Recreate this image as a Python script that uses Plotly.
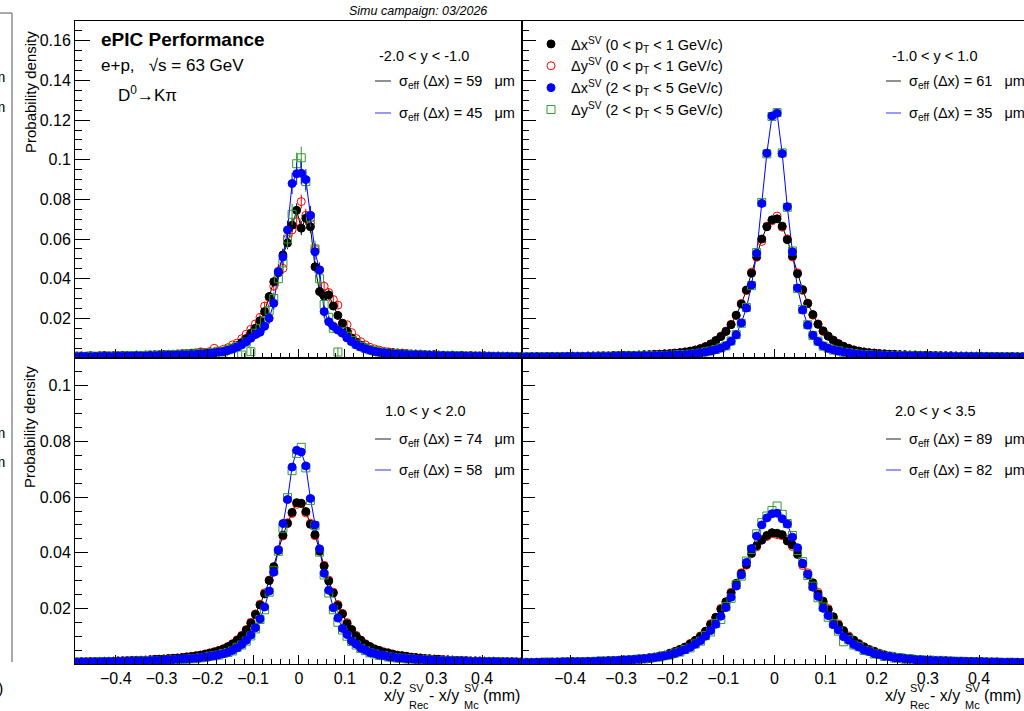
import plotly.graph_objects as go

W, H = 1024, 711
FONT = "Liberation Sans, Arial, Helvetica, sans-serif"


def px(x):
    return x / W


def py(y):
    return 1 - y / H


# ---------------- data ----------------
BIN_CENTERS = [round(-0.495 + 0.01 * i, 3) for i in range(100)]

SERIES_NAMES = [
    "Δx<sup>SV</sup> (0 &lt; p<sub>T</sub> &lt; 1 GeV/c)",
    "Δy<sup>SV</sup> (0 &lt; p<sub>T</sub> &lt; 1 GeV/c)",
    "Δx<sup>SV</sup> (2 &lt; p<sub>T</sub> &lt; 5 GeV/c)",
    "Δy<sup>SV</sup> (2 &lt; p<sub>T</sub> &lt; 5 GeV/c)",
]
RAPIDITY_LABELS = ["-2.0 &lt; y &lt; -1.0", "-1.0 &lt; y &lt; 1.0", "1.0 &lt; y &lt; 2.0", "2.0 &lt; y &lt; 3.5"]
SIGMA_LOW = [59, 61, 74, 89]
SIGMA_HIGH = [45, 35, 58, 82]
X_TICKS = [-0.4, -0.3, -0.2, -0.1, 0, 0.1, 0.2, 0.3, 0.4]
Y_TICKS_TOP = [0.02, 0.04, 0.06, 0.08, 0.1, 0.12, 0.14, 0.16]
Y_TICKS_BOT = [0.02, 0.04, 0.06, 0.08, 0.1]

# ---- panel 1 : -2.0 < y < -1.0 ----
TL_DX_LOW = [
    0.0008, 0.0010, 0.0007, 0.0009, 0.0011, 0.0008, 0.0010, 0.0012, 0.0009, 0.0011,
    0.0010, 0.0013, 0.0011, 0.0012, 0.0014, 0.0012, 0.0015, 0.0013, 0.0016, 0.0014,
    0.0017, 0.0015, 0.0019, 0.0018, 0.0021, 0.0020, 0.0024, 0.0023, 0.0026, 0.0024,
    0.0025, 0.0027, 0.0030, 0.0033, 0.0040, 0.0049, 0.0062, 0.0078, 0.0098, 0.0125,
    0.0150, 0.0188, 0.0234, 0.0310, 0.0385, 0.0430, 0.0520, 0.0580, 0.0670, 0.0745,
    0.0655, 0.0705, 0.0662, 0.0460, 0.0335, 0.0312, 0.0318, 0.0262, 0.0215, 0.0175,
    0.0135, 0.0101, 0.0080, 0.0064, 0.0052, 0.0042, 0.0035, 0.0031, 0.0028, 0.0027,
    0.0026, 0.0024, 0.0022, 0.0021, 0.0019, 0.0020, 0.0017, 0.0016, 0.0015, 0.0016,
    0.0014, 0.0013, 0.0014, 0.0012, 0.0011, 0.0013, 0.0010, 0.0011, 0.0010, 0.0009,
    0.0011, 0.0009, 0.0008, 0.0010, 0.0008, 0.0009, 0.0007, 0.0008, 0.0007, 0.0008,
]
TL_DY_LOW = [
    0.0009, 0.0007, 0.0011, 0.0008, 0.0010, 0.0009, 0.0012, 0.0008, 0.0011, 0.0010,
    0.0012, 0.0010, 0.0013, 0.0011, 0.0014, 0.0013, 0.0012, 0.0016, 0.0014, 0.0017,
    0.0016, 0.0019, 0.0017, 0.0021, 0.0020, 0.0023, 0.0022, 0.0026, 0.0031, 0.0028,
    0.0032, 0.0049, 0.0035, 0.0044, 0.0052, 0.0066, 0.0075, 0.0097, 0.0120, 0.0145,
    0.0172, 0.0205, 0.0262, 0.0305, 0.0362, 0.0438, 0.0452, 0.0600, 0.0646, 0.0688,
    0.0789, 0.0720, 0.0680, 0.0548, 0.0445, 0.0362, 0.0330, 0.0295, 0.0267, 0.0175,
    0.0168, 0.0128, 0.0098, 0.0082, 0.0066, 0.0054, 0.0046, 0.0040, 0.0034, 0.0031,
    0.0028, 0.0026, 0.0025, 0.0022, 0.0021, 0.0019, 0.0020, 0.0017, 0.0016, 0.0017,
    0.0015, 0.0014, 0.0013, 0.0015, 0.0012, 0.0012, 0.0011, 0.0012, 0.0010, 0.0011,
    0.0009, 0.0010, 0.0009, 0.0008, 0.0010, 0.0008, 0.0009, 0.0007, 0.0008, 0.0007,
]
TL_DX_HIGH = [
    0.0007, 0.0006, 0.0008, 0.0007, 0.0006, 0.0008, 0.0007, 0.0009, 0.0008, 0.0007,
    0.0009, 0.0008, 0.0010, 0.0009, 0.0011, 0.0010, 0.0009, 0.0012, 0.0011, 0.0013,
    0.0012, 0.0014, 0.0013, 0.0015, 0.0016, 0.0015, 0.0018, 0.0017, 0.0020, 0.0022,
    0.0024, 0.0026, 0.0030, 0.0033, 0.0038, 0.0045, 0.0055, 0.0066, 0.0082, 0.0100,
    0.0118, 0.0130, 0.0160, 0.0200, 0.0276, 0.0435, 0.0510, 0.0646, 0.0880, 0.0930,
    0.0932, 0.0900, 0.0720, 0.0536, 0.0444, 0.0234, 0.0183, 0.0160, 0.0141, 0.0125,
    0.0101, 0.0082, 0.0066, 0.0055, 0.0046, 0.0039, 0.0033, 0.0029, 0.0026, 0.0023,
    0.0021, 0.0019, 0.0018, 0.0017, 0.0015, 0.0016, 0.0014, 0.0013, 0.0014, 0.0012,
    0.0011, 0.0012, 0.0010, 0.0011, 0.0009, 0.0010, 0.0009, 0.0008, 0.0009, 0.0008,
    0.0007, 0.0008, 0.0007, 0.0007, 0.0006, 0.0007, 0.0006, 0.0006, 0.0005, 0.0006,
]
TL_DY_HIGH = [
    0.0006, 0.0009, 0.0007, 0.0008, 0.0010, 0.0007, 0.0009, 0.0008, 0.0010, 0.0008,
    0.0010, 0.0009, 0.0011, 0.0012, 0.0010, 0.0013, 0.0011, 0.0014, 0.0012, 0.0015,
    0.0014, 0.0016, 0.0018, 0.0015, 0.0019, 0.0021, 0.0018, 0.0024, 0.0022, 0.0020,
    0.0028, 0.0024, 0.0034, 0.0030, 0.0042, 0.0050, 0.0058, 0.0015, 0.0080, 0.0032,
    0.0125, 0.0148, 0.0185, 0.0240, 0.0300, 0.0400, 0.0480, 0.0600, 0.0725, 0.0980,
    0.1010, 0.0890, 0.0710, 0.0550, 0.0400, 0.0270, 0.0205, 0.0150, 0.0030, 0.0132,
    0.0110, 0.0088, 0.0070, 0.0058, 0.0049, 0.0041, 0.0036, 0.0030, 0.0027, 0.0024,
    0.0022, 0.0021, 0.0018, 0.0019, 0.0016, 0.0017, 0.0014, 0.0015, 0.0013, 0.0012,
    0.0013, 0.0011, 0.0012, 0.0010, 0.0011, 0.0009, 0.0010, 0.0008, 0.0009, 0.0009,
    0.0007, 0.0008, 0.0008, 0.0006, 0.0007, 0.0007, 0.0006, 0.0007, 0.0005, 0.0006,
]
TL_ERR_LOW = [
    0.0004, 0.0004, 0.0004, 0.0004, 0.0004, 0.0004, 0.0004, 0.0004, 0.0004, 0.0004,
    0.0005, 0.0005, 0.0005, 0.0005, 0.0005, 0.0005, 0.0005, 0.0005, 0.0005, 0.0005,
    0.0005, 0.0005, 0.0005, 0.0006, 0.0006, 0.0006, 0.0006, 0.0006, 0.0007, 0.0007,
    0.0007, 0.0007, 0.0008, 0.0008, 0.0009, 0.0010, 0.0011, 0.0012, 0.0013, 0.0015,
    0.0017, 0.0018, 0.0020, 0.0023, 0.0025, 0.0027, 0.0029, 0.0031, 0.0033, 0.0035,
    0.0035, 0.0033, 0.0031, 0.0029, 0.0027, 0.0025, 0.0023, 0.0020, 0.0018, 0.0017,
    0.0015, 0.0013, 0.0012, 0.0011, 0.0010, 0.0009, 0.0008, 0.0008, 0.0007, 0.0007,
    0.0007, 0.0007, 0.0006, 0.0006, 0.0006, 0.0006, 0.0006, 0.0005, 0.0005, 0.0005,
    0.0005, 0.0005, 0.0005, 0.0005, 0.0005, 0.0005, 0.0005, 0.0005, 0.0005, 0.0005,
    0.0004, 0.0004, 0.0004, 0.0004, 0.0004, 0.0004, 0.0004, 0.0004, 0.0004, 0.0004,
]
TL_ERR_HIGH = [
    0.0005, 0.0005, 0.0005, 0.0005, 0.0005, 0.0005, 0.0005, 0.0005, 0.0005, 0.0005,
    0.0006, 0.0006, 0.0006, 0.0006, 0.0006, 0.0006, 0.0006, 0.0006, 0.0006, 0.0006,
    0.0006, 0.0007, 0.0007, 0.0007, 0.0007, 0.0008, 0.0008, 0.0008, 0.0009, 0.0009,
    0.0009, 0.0010, 0.0011, 0.0011, 0.0012, 0.0013, 0.0015, 0.0016, 0.0018, 0.0019,
    0.0021, 0.0022, 0.0025, 0.0028, 0.0032, 0.0038, 0.0042, 0.0047, 0.0053, 0.0056,
    0.0056, 0.0053, 0.0047, 0.0042, 0.0038, 0.0032, 0.0028, 0.0025, 0.0022, 0.0021,
    0.0019, 0.0018, 0.0016, 0.0015, 0.0013, 0.0012, 0.0011, 0.0011, 0.0010, 0.0009,
    0.0009, 0.0009, 0.0008, 0.0008, 0.0008, 0.0007, 0.0007, 0.0007, 0.0007, 0.0006,
    0.0006, 0.0006, 0.0006, 0.0006, 0.0006, 0.0006, 0.0006, 0.0006, 0.0006, 0.0006,
    0.0005, 0.0005, 0.0005, 0.0005, 0.0005, 0.0005, 0.0005, 0.0005, 0.0005, 0.0005,
]

# ---- panel 2 : -1.0 < y < 1.0 ----
TR_DX_LOW = [
    0.0006, 0.0006, 0.0007, 0.0006, 0.0007, 0.0007, 0.0008, 0.0008, 0.0007, 0.0008,
    0.0009, 0.0009, 0.0008, 0.0010, 0.0010, 0.0010, 0.0011, 0.0010, 0.0012, 0.0012,
    0.0013, 0.0014, 0.0013, 0.0015, 0.0016, 0.0017, 0.0018, 0.0019, 0.0021, 0.0022,
    0.0024, 0.0027, 0.0030, 0.0034, 0.0040, 0.0047, 0.0057, 0.0070, 0.0088, 0.0108,
    0.0134, 0.0168, 0.0216, 0.0272, 0.0343, 0.0428, 0.0512, 0.0600, 0.0662, 0.0697,
    0.0702, 0.0665, 0.0597, 0.0514, 0.0425, 0.0345, 0.0275, 0.0219, 0.0170, 0.0137,
    0.0110, 0.0090, 0.0072, 0.0059, 0.0048, 0.0040, 0.0035, 0.0030, 0.0027, 0.0025,
    0.0022, 0.0021, 0.0019, 0.0018, 0.0017, 0.0016, 0.0015, 0.0015, 0.0014, 0.0013,
    0.0012, 0.0012, 0.0011, 0.0011, 0.0011, 0.0010, 0.0010, 0.0009, 0.0009, 0.0009,
    0.0008, 0.0008, 0.0008, 0.0007, 0.0007, 0.0007, 0.0007, 0.0006, 0.0006, 0.0006,
]
TR_DY_LOW = [
    0.0007, 0.0006, 0.0006, 0.0007, 0.0007, 0.0008, 0.0007, 0.0008, 0.0008, 0.0008,
    0.0009, 0.0008, 0.0009, 0.0009, 0.0010, 0.0011, 0.0010, 0.0011, 0.0012, 0.0013,
    0.0013, 0.0013, 0.0014, 0.0015, 0.0016, 0.0016, 0.0018, 0.0019, 0.0020, 0.0023,
    0.0025, 0.0027, 0.0031, 0.0035, 0.0040, 0.0048, 0.0058, 0.0071, 0.0087, 0.0110,
    0.0136, 0.0170, 0.0214, 0.0275, 0.0340, 0.0433, 0.0508, 0.0588, 0.0665, 0.0692,
    0.0716, 0.0660, 0.0601, 0.0510, 0.0430, 0.0341, 0.0277, 0.0216, 0.0172, 0.0134,
    0.0111, 0.0089, 0.0073, 0.0058, 0.0049, 0.0041, 0.0034, 0.0031, 0.0026, 0.0024,
    0.0023, 0.0020, 0.0019, 0.0018, 0.0016, 0.0016, 0.0015, 0.0014, 0.0013, 0.0013,
    0.0012, 0.0011, 0.0012, 0.0010, 0.0010, 0.0010, 0.0009, 0.0010, 0.0009, 0.0008,
    0.0008, 0.0008, 0.0007, 0.0008, 0.0007, 0.0006, 0.0007, 0.0006, 0.0006, 0.0005,
]
TR_DX_HIGH = [
    0.0005, 0.0005, 0.0005, 0.0006, 0.0005, 0.0006, 0.0006, 0.0006, 0.0006, 0.0007,
    0.0007, 0.0007, 0.0007, 0.0008, 0.0007, 0.0008, 0.0008, 0.0008, 0.0009, 0.0009,
    0.0009, 0.0009, 0.0010, 0.0010, 0.0011, 0.0011, 0.0012, 0.0012, 0.0013, 0.0014,
    0.0015, 0.0016, 0.0017, 0.0019, 0.0022, 0.0026, 0.0030, 0.0036, 0.0042, 0.0050,
    0.0062, 0.0084, 0.0117, 0.0177, 0.0252, 0.0368, 0.0528, 0.0780, 0.1033, 0.1221,
    0.1235, 0.1031, 0.0763, 0.0536, 0.0353, 0.0242, 0.0166, 0.0115, 0.0083, 0.0061,
    0.0049, 0.0041, 0.0035, 0.0030, 0.0026, 0.0022, 0.0019, 0.0017, 0.0016, 0.0015,
    0.0014, 0.0013, 0.0012, 0.0012, 0.0011, 0.0011, 0.0010, 0.0010, 0.0009, 0.0009,
    0.0009, 0.0008, 0.0008, 0.0008, 0.0008, 0.0007, 0.0007, 0.0007, 0.0007, 0.0006,
    0.0006, 0.0006, 0.0006, 0.0006, 0.0005, 0.0005, 0.0005, 0.0005, 0.0005, 0.0005,
]
TR_DY_HIGH = [
    0.0005, 0.0006, 0.0005, 0.0005, 0.0006, 0.0006, 0.0005, 0.0007, 0.0006, 0.0006,
    0.0007, 0.0008, 0.0007, 0.0007, 0.0008, 0.0008, 0.0009, 0.0008, 0.0009, 0.0010,
    0.0009, 0.0010, 0.0010, 0.0011, 0.0011, 0.0012, 0.0012, 0.0013, 0.0013, 0.0014,
    0.0016, 0.0016, 0.0018, 0.0019, 0.0021, 0.0025, 0.0031, 0.0035, 0.0043, 0.0051,
    0.0061, 0.0086, 0.0118, 0.0175, 0.0255, 0.0365, 0.0532, 0.0785, 0.1030, 0.1218,
    0.1238, 0.1035, 0.0760, 0.0540, 0.0350, 0.0245, 0.0168, 0.0113, 0.0085, 0.0060,
    0.0050, 0.0040, 0.0036, 0.0029, 0.0026, 0.0023, 0.0019, 0.0018, 0.0016, 0.0014,
    0.0014, 0.0013, 0.0013, 0.0011, 0.0011, 0.0010, 0.0011, 0.0009, 0.0010, 0.0009,
    0.0008, 0.0009, 0.0008, 0.0007, 0.0008, 0.0007, 0.0007, 0.0006, 0.0007, 0.0006,
    0.0006, 0.0005, 0.0006, 0.0006, 0.0005, 0.0005, 0.0005, 0.0004, 0.0005, 0.0005,
]

# ---- panel 3 : 1.0 < y < 2.0 ----
BL_DX_LOW = [
    0.0007, 0.0007, 0.0008, 0.0008, 0.0008, 0.0009, 0.0009, 0.0009, 0.0010, 0.0010,
    0.0011, 0.0011, 0.0012, 0.0012, 0.0013, 0.0013, 0.0014, 0.0015, 0.0016, 0.0017,
    0.0018, 0.0019, 0.0020, 0.0021, 0.0023, 0.0025, 0.0027, 0.0029, 0.0032, 0.0035,
    0.0039, 0.0043, 0.0048, 0.0054, 0.0062, 0.0072, 0.0085, 0.0101, 0.0122, 0.0147,
    0.0178, 0.0212, 0.0252, 0.0300, 0.0350, 0.0408, 0.0463, 0.0505, 0.0545, 0.0580,
    0.0578, 0.0548, 0.0502, 0.0465, 0.0405, 0.0352, 0.0298, 0.0255, 0.0210, 0.0180,
    0.0145, 0.0124, 0.0100, 0.0086, 0.0071, 0.0063, 0.0053, 0.0049, 0.0042, 0.0040,
    0.0035, 0.0031, 0.0030, 0.0027, 0.0024, 0.0023, 0.0021, 0.0019, 0.0019, 0.0017,
    0.0017, 0.0015, 0.0015, 0.0014, 0.0013, 0.0012, 0.0012, 0.0011, 0.0011, 0.0010,
    0.0010, 0.0009, 0.0010, 0.0009, 0.0008, 0.0008, 0.0008, 0.0007, 0.0007, 0.0007,
]
BL_DY_LOW = [
    0.0008, 0.0007, 0.0007, 0.0008, 0.0009, 0.0008, 0.0009, 0.0010, 0.0009, 0.0010,
    0.0011, 0.0012, 0.0011, 0.0013, 0.0012, 0.0014, 0.0014, 0.0015, 0.0017, 0.0017,
    0.0018, 0.0020, 0.0021, 0.0022, 0.0023, 0.0026, 0.0027, 0.0030, 0.0032, 0.0036,
    0.0040, 0.0044, 0.0049, 0.0055, 0.0063, 0.0073, 0.0087, 0.0103, 0.0124, 0.0150,
    0.0180, 0.0215, 0.0256, 0.0302, 0.0347, 0.0411, 0.0460, 0.0508, 0.0541, 0.0574,
    0.0576, 0.0543, 0.0506, 0.0461, 0.0410, 0.0355, 0.0302, 0.0258, 0.0214, 0.0182,
    0.0149, 0.0122, 0.0103, 0.0084, 0.0073, 0.0062, 0.0055, 0.0048, 0.0044, 0.0039,
    0.0036, 0.0032, 0.0029, 0.0028, 0.0025, 0.0023, 0.0022, 0.0020, 0.0018, 0.0018,
    0.0016, 0.0016, 0.0014, 0.0014, 0.0013, 0.0013, 0.0012, 0.0011, 0.0011, 0.0011,
    0.0010, 0.0010, 0.0009, 0.0009, 0.0009, 0.0008, 0.0008, 0.0008, 0.0007, 0.0008,
]
BL_DX_HIGH = [
    0.0006, 0.0006, 0.0007, 0.0006, 0.0007, 0.0007, 0.0007, 0.0008, 0.0008, 0.0009,
    0.0009, 0.0009, 0.0010, 0.0010, 0.0010, 0.0011, 0.0011, 0.0012, 0.0013, 0.0013,
    0.0014, 0.0015, 0.0016, 0.0017, 0.0018, 0.0019, 0.0020, 0.0021, 0.0023, 0.0025,
    0.0027, 0.0030, 0.0033, 0.0037, 0.0042, 0.0049, 0.0058, 0.0070, 0.0085, 0.0104,
    0.0130, 0.0162, 0.0205, 0.0262, 0.0330, 0.0410, 0.0505, 0.0591, 0.0708, 0.0768,
    0.0762, 0.0712, 0.0595, 0.0500, 0.0414, 0.0326, 0.0265, 0.0202, 0.0165, 0.0128,
    0.0106, 0.0083, 0.0071, 0.0057, 0.0050, 0.0041, 0.0038, 0.0032, 0.0031, 0.0026,
    0.0025, 0.0022, 0.0022, 0.0019, 0.0019, 0.0017, 0.0017, 0.0015, 0.0015, 0.0013,
    0.0013, 0.0012, 0.0012, 0.0011, 0.0010, 0.0011, 0.0010, 0.0009, 0.0009, 0.0009,
    0.0008, 0.0008, 0.0008, 0.0007, 0.0007, 0.0007, 0.0007, 0.0006, 0.0006, 0.0006,
]
BL_DY_HIGH = [
    0.0006, 0.0007, 0.0006, 0.0007, 0.0006, 0.0007, 0.0008, 0.0007, 0.0008, 0.0009,
    0.0008, 0.0009, 0.0010, 0.0009, 0.0010, 0.0011, 0.0011, 0.0012, 0.0012, 0.0012,
    0.0014, 0.0013, 0.0015, 0.0015, 0.0017, 0.0017, 0.0019, 0.0019, 0.0022, 0.0024,
    0.0028, 0.0029, 0.0032, 0.0038, 0.0041, 0.0047, 0.0060, 0.0068, 0.0082, 0.0101,
    0.0126, 0.0160, 0.0195, 0.0258, 0.0335, 0.0405, 0.0488, 0.0598, 0.0695, 0.0757,
    0.0779, 0.0705, 0.0588, 0.0497, 0.0402, 0.0320, 0.0255, 0.0195, 0.0150, 0.0122,
    0.0100, 0.0081, 0.0068, 0.0056, 0.0048, 0.0040, 0.0036, 0.0031, 0.0030, 0.0025,
    0.0024, 0.0021, 0.0021, 0.0018, 0.0018, 0.0016, 0.0016, 0.0014, 0.0015, 0.0013,
    0.0012, 0.0012, 0.0011, 0.0011, 0.0010, 0.0010, 0.0010, 0.0009, 0.0009, 0.0008,
    0.0008, 0.0008, 0.0007, 0.0008, 0.0007, 0.0006, 0.0007, 0.0006, 0.0006, 0.0006,
]

# ---- panel 4 : 2.0 < y < 3.5 ----
BR_DX_LOW = [
    0.0005, 0.0005, 0.0006, 0.0006, 0.0006, 0.0006, 0.0007, 0.0007, 0.0007, 0.0008,
    0.0008, 0.0008, 0.0009, 0.0009, 0.0010, 0.0010, 0.0011, 0.0012, 0.0012, 0.0013,
    0.0014, 0.0015, 0.0017, 0.0018, 0.0020, 0.0022, 0.0025, 0.0028, 0.0032, 0.0038,
    0.0045, 0.0052, 0.0061, 0.0072, 0.0085, 0.0099, 0.0118, 0.0142, 0.0168, 0.0197,
    0.0224, 0.0255, 0.0290, 0.0325, 0.0358, 0.0397, 0.0425, 0.0445, 0.0462, 0.0472,
    0.0470, 0.0465, 0.0442, 0.0428, 0.0394, 0.0360, 0.0322, 0.0292, 0.0252, 0.0226,
    0.0195, 0.0170, 0.0140, 0.0120, 0.0097, 0.0086, 0.0071, 0.0062, 0.0051, 0.0046,
    0.0037, 0.0033, 0.0027, 0.0026, 0.0021, 0.0021, 0.0017, 0.0017, 0.0014, 0.0014,
    0.0013, 0.0012, 0.0011, 0.0012, 0.0010, 0.0010, 0.0009, 0.0009, 0.0008, 0.0008,
    0.0008, 0.0007, 0.0007, 0.0007, 0.0006, 0.0006, 0.0006, 0.0005, 0.0006, 0.0005,
]
BR_DY_LOW = [
    0.0005, 0.0006, 0.0005, 0.0006, 0.0007, 0.0006, 0.0007, 0.0006, 0.0008, 0.0007,
    0.0008, 0.0009, 0.0008, 0.0010, 0.0009, 0.0011, 0.0010, 0.0012, 0.0013, 0.0012,
    0.0015, 0.0014, 0.0017, 0.0019, 0.0019, 0.0023, 0.0024, 0.0029, 0.0031, 0.0039,
    0.0044, 0.0053, 0.0060, 0.0074, 0.0084, 0.0101, 0.0116, 0.0145, 0.0166, 0.0200,
    0.0222, 0.0258, 0.0287, 0.0328, 0.0355, 0.0400, 0.0421, 0.0448, 0.0458, 0.0468,
    0.0465, 0.0461, 0.0447, 0.0422, 0.0399, 0.0354, 0.0328, 0.0287, 0.0258, 0.0220,
    0.0199, 0.0165, 0.0144, 0.0116, 0.0101, 0.0083, 0.0074, 0.0059, 0.0053, 0.0044,
    0.0039, 0.0031, 0.0029, 0.0024, 0.0023, 0.0019, 0.0019, 0.0016, 0.0015, 0.0013,
    0.0014, 0.0011, 0.0012, 0.0010, 0.0011, 0.0009, 0.0010, 0.0008, 0.0009, 0.0008,
    0.0007, 0.0008, 0.0007, 0.0006, 0.0007, 0.0006, 0.0005, 0.0006, 0.0005, 0.0005,
]
BR_DX_HIGH = [
    0.0005, 0.0005, 0.0005, 0.0006, 0.0006, 0.0006, 0.0006, 0.0007, 0.0007, 0.0007,
    0.0008, 0.0008, 0.0008, 0.0009, 0.0009, 0.0010, 0.0010, 0.0011, 0.0012, 0.0013,
    0.0014, 0.0015, 0.0016, 0.0017, 0.0019, 0.0021, 0.0023, 0.0026, 0.0029, 0.0033,
    0.0038, 0.0044, 0.0051, 0.0060, 0.0071, 0.0084, 0.0100, 0.0120, 0.0143, 0.0172,
    0.0203, 0.0240, 0.0280, 0.0320, 0.0365, 0.0415, 0.0460, 0.0500, 0.0525, 0.0540,
    0.0542, 0.0522, 0.0503, 0.0456, 0.0418, 0.0362, 0.0323, 0.0276, 0.0243, 0.0200,
    0.0174, 0.0141, 0.0122, 0.0098, 0.0086, 0.0070, 0.0061, 0.0050, 0.0045, 0.0037,
    0.0034, 0.0028, 0.0027, 0.0022, 0.0022, 0.0018, 0.0018, 0.0015, 0.0015, 0.0013,
    0.0013, 0.0012, 0.0012, 0.0011, 0.0010, 0.0010, 0.0009, 0.0009, 0.0009, 0.0008,
    0.0008, 0.0007, 0.0007, 0.0007, 0.0006, 0.0006, 0.0006, 0.0006, 0.0005, 0.0005,
]
BR_DY_HIGH = [
    0.0005, 0.0006, 0.0005, 0.0005, 0.0006, 0.0007, 0.0006, 0.0006, 0.0007, 0.0008,
    0.0007, 0.0008, 0.0009, 0.0008, 0.0009, 0.0010, 0.0011, 0.0010, 0.0012, 0.0012,
    0.0014, 0.0014, 0.0016, 0.0018, 0.0018, 0.0020, 0.0023, 0.0025, 0.0030, 0.0032,
    0.0039, 0.0043, 0.0052, 0.0058, 0.0072, 0.0082, 0.0102, 0.0115, 0.0145, 0.0160,
    0.0206, 0.0236, 0.0285, 0.0316, 0.0370, 0.0412, 0.0468, 0.0508, 0.0532, 0.0552,
    0.0568, 0.0538, 0.0505, 0.0462, 0.0408, 0.0368, 0.0318, 0.0280, 0.0238, 0.0205,
    0.0168, 0.0145, 0.0118, 0.0080, 0.0087, 0.0068, 0.0062, 0.0049, 0.0046, 0.0036,
    0.0035, 0.0027, 0.0028, 0.0021, 0.0023, 0.0017, 0.0019, 0.0014, 0.0016, 0.0012,
    0.0014, 0.0011, 0.0013, 0.0010, 0.0011, 0.0009, 0.0010, 0.0008, 0.0009, 0.0007,
    0.0008, 0.0007, 0.0006, 0.0007, 0.0005, 0.0006, 0.0006, 0.0005, 0.0005, 0.0005,
]

PANELS = [
    dict(xa="x", ya="y", data=[TL_DX_LOW, TL_DY_LOW, TL_DX_HIGH, TL_DY_HIGH],
         err=[TL_ERR_LOW, TL_ERR_LOW, TL_ERR_HIGH, TL_ERR_HIGH]),
    dict(xa="x2", ya="y2", data=[TR_DX_LOW, TR_DY_LOW, TR_DX_HIGH, TR_DY_HIGH], err=None),
    dict(xa="x3", ya="y3", data=[BL_DX_LOW, BL_DY_LOW, BL_DX_HIGH, BL_DY_HIGH], err=None),
    dict(xa="x4", ya="y4", data=[BR_DX_LOW, BR_DY_LOW, BR_DX_HIGH, BR_DY_HIGH], err=None),
]
for p in PANELS:
    for s in p["data"]:
        assert len(s) == 100, len(s)

# ---------------- styles ----------------
COLORS = ["#000000", "#ff0000", "#0000ff", "#339933"]
SYMBOLS = ["circle", "circle-open", "circle", "square-open"]
SIZES = [8, 8, 8, 8]
DRAW_ORDER = [1, 0, 3, 2]   # red below black, green below blue

fig = go.Figure()

for ip, p in enumerate(PANELS):
    # fit-like lines through the Δx series
    for si, lc in ((0, "#000000"), (2, "#0000ff")):
        fig.add_trace(go.Scatter(
            x=BIN_CENTERS, y=p["data"][si], mode="lines",
            line=dict(color=lc, width=1), xaxis=p["xa"], yaxis=p["ya"],
            showlegend=False, hoverinfo="skip"))
    for si in DRAW_ORDER:
        kw = {}
        if p["err"] is not None:
            kw["error_y"] = dict(type="data", array=p["err"][si], visible=True,
                                 color=COLORS[si], thickness=1, width=0)
        fig.add_trace(go.Scatter(
            x=BIN_CENTERS, y=p["data"][si], mode="markers",
            marker=dict(symbol=SYMBOLS[si], size=SIZES[si], color=COLORS[si],
                        line=dict(color=COLORS[si], width=1)),
            xaxis=p["xa"], yaxis=p["ya"], name=SERIES_NAMES[si],
            legendgroup="g%d" % si, legendrank=si + 1,
            showlegend=(ip == 0), **kw))

# ---------------- axes ----------------
X_LEFT = [75, 522]
X_RIGHT = [522, 1024]
Y_TOP = [21, 358]
Y_BOT = [358, 664]
TL_XRANGE = [-0.489, 0.487]
TR_XRANGE = [-0.494, 0.488]
TOP_YRANGE = [0, 0.17]
BOT_YRANGE = [0, 0.11]

tickfont = dict(family=FONT, size=16, color="black")


def xaxis(dom, rng, labels):
    return dict(domain=[px(dom[0]), px(dom[1])], range=rng, showline=True,
                linecolor="black", linewidth=1, mirror=True, ticks="inside",
                ticklen=9, tickwidth=1, tickcolor="black", tickmode="array",
                tickvals=X_TICKS, showticklabels=labels, tickfont=tickfont,
                minor=dict(ticks="inside", ticklen=5, dtick=0.02, tick0=0,
                           tickcolor="black", tickwidth=1, showgrid=False),
                showgrid=False, zeroline=False, fixedrange=True)


def yaxis(dom, rng, ticks, labels, mirror, majlen):
    return dict(domain=[py(dom[1]), py(dom[0])], range=rng, showline=True,
                linecolor="black", linewidth=1, mirror=mirror, ticks="inside",
                ticklen=majlen, tickwidth=1, tickcolor="black", tickmode="array",
                tickvals=ticks, showticklabels=labels, tickfont=tickfont,
                minor=dict(ticks="inside", ticklen=7, dtick=0.005, tick0=0,
                           tickcolor="black", tickwidth=1, showgrid=False),
                showgrid=False, zeroline=False, fixedrange=True)


fig.update_layout(
    xaxis=dict(xaxis(X_LEFT, TL_XRANGE, False), anchor="y"),
    xaxis2=dict(xaxis(X_RIGHT, TR_XRANGE, False), anchor="y2"),
    xaxis3=dict(xaxis(X_LEFT, TL_XRANGE, True), anchor="y3"),
    xaxis4=dict(xaxis(X_RIGHT, TR_XRANGE, True), anchor="y4"),
    yaxis=dict(yaxis(Y_TOP, TOP_YRANGE, Y_TICKS_TOP, True, True, 15), anchor="x"),
    yaxis2=dict(yaxis(Y_TOP, TOP_YRANGE, Y_TICKS_TOP, False, False, 14), anchor="x2"),
    yaxis3=dict(yaxis(Y_BOT, BOT_YRANGE, Y_TICKS_BOT, True, True, 13), anchor="x3"),
    yaxis4=dict(yaxis(Y_BOT, BOT_YRANGE, Y_TICKS_BOT, False, False, 13), anchor="x4"),
)

# ---------------- texts ----------------
ann = []


def text(t, x, y, size, xanchor="left", angle=0, color="black", **kw):
    ann.append(dict(text=t, x=px(x), y=py(y), xref="paper", yref="paper",
                    xanchor=xanchor, yanchor="middle", showarrow=False,
                    textangle=angle, font=dict(family=FONT, size=size, color=color),
                    **kw))


NB = "\u00a0"
text("<i>Simu campaign: 03/2026</i>", 418, 11, 12.5, xanchor="center")
text("<b>ePIC Performance</b>", 99, 39, 19)
text("e+p," + NB * 3 + "√s = 63 GeV", 99, 66, 17)
text("D<sup>0</sup>→Kπ", 116, 94, 17)

text("Probability density", 30, 92, 15, xanchor="center", angle=-90)
text("Probability density", 30, 427, 15, xanchor="center", angle=-90)

LABEL_POS = [(377, 56, 82, 114), (890, 56, 82, 114), (383, 411, 440, 471), (893, 411, 440, 471)]
LINE_X = [(375, 391), (886, 901), (375, 391), (886, 901)]
TEXT_X = [397, 907, 397, 907]
shapes = []
for ip, (lx, ly, r1, r2) in enumerate(LABEL_POS):
    text(RAPIDITY_LABELS[ip], lx, ly, 14.5)
    for yy, sig, col in ((r1, SIGMA_LOW[ip], "#222222"), (r2, SIGMA_HIGH[ip], "#3333ff")):
        text("σ<sub>eff</sub> (Δx) = %d" % sig + NB * 3 + "μm", TEXT_X[ip], yy, 14.5)
        shapes.append(dict(type="line", xref="paper", yref="paper",
                           x0=px(LINE_X[ip][0]), x1=px(LINE_X[ip][1]),
                           y0=py(yy - 1), y1=py(yy - 1), line=dict(color=col, width=1)))


def x_title(R):
    text("(mm)", R, 695, 16, xanchor="right")
    text("SV", R - 60, 688, 11)
    text("Mc", R - 60, 705, 11)
    text("- x/y", R - 61, 695, 16, xanchor="right")
    text("SV", R - 115, 688, 11)
    text("Rec", R - 115, 705, 11)
    text("x/y", R - 116, 695, 16, xanchor="right")


x_title(522)
x_title(1023)

# fragments of the neighbouring canvas at the far left edge
for yy in (77, 107, 433, 462):
    text("μm", 7, yy, 14.5, xanchor="right")
text("(mm)", 5, 688, 16, xanchor="right")
shapes.append(dict(type="line", xref="paper", yref="paper", x0=px(12), x1=px(12),
                   y0=py(13), y1=py(662), line=dict(color="#555555", width=1)))
shapes.append(dict(type="line", xref="paper", yref="paper", x0=px(0), x1=px(12),
                   y0=py(13), y1=py(13), line=dict(color="#555555", width=1)))

fig.update_layout(
    width=W, height=H, autosize=False,
    margin=dict(l=0, r=0, t=0, b=0, pad=0),
    paper_bgcolor="white", plot_bgcolor="white",
    font=dict(family=FONT, color="black"),
    annotations=ann, shapes=shapes,
    showlegend=True,
    legend=dict(x=px(531), y=py(28), xanchor="left", yanchor="top",
                bgcolor="rgba(0,0,0,0)", borderwidth=0,
                font=dict(family=FONT, size=14.5, color="black"),
                itemwidth=30, tracegroupgap=0, traceorder="normal"),
)

fig.write_html(
    "out.html",
    config={"displayModeBar": False},
    post_script="document.body.style.margin='0';document.body.style.overflow='hidden';",
)
